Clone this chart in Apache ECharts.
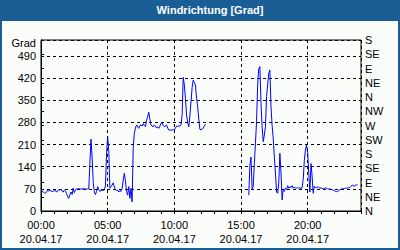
<!DOCTYPE html>
<html><head><meta charset="utf-8">
<script src="https://cdn.jsdelivr.net/npm/echarts@6/dist/echarts.min.js"></script>
<style>html,body{margin:0;padding:0;background:#fbfdfb;}#c{width:400px;height:250px;}</style>
</head><body><div id="c"></div>
<script>
const titleText = 'Windrichtung [Grad]';
const yUnit = 'Grad';
const dateLabel = '20.04.17';
const stepMinutes = 5;
const seg1StartIndex = 0;
const seg1Values = [65,62,60,58,56,60,66,63,66,63,61,64,62,66,60,63,68,66,69,63,60,66,63,55,45,40,52,60,52,72,58,66,70,
 70,70,70,69,70,70,70,70,69,70,70,
 150,227,170,90,60,52,62,77,68,62,65,66,65,66,
 80,180,235,190,72,77,82,89,76,68,64,66,60,64,62,72,98,119,95,62,50,77,40,72,29,
 200,245,262,272,266,261,270,272,268,276,270,266,286,298,312,290,271,268,266,272,268,262,266,261,268,277,280,270,266,268,272,262,256,256,255,256,256,256,262,268,268,268,268,272,303,422,398,356,303,280,266,300,345,390,413,405,398,356,330,290,258,256,258,262,268,274];
const seg2StartIndex = 187;
const seg2Values = [50,145,170,70,77,150,214,282,398,450,456,340,266,219,240,266,361,400,435,445,329,270,230,170,120,60,56,90,182,120,35,70,62,
 72,68,80,72,76,74,80,72,76,72,72,74,72,73,72,73,
 100,160,193,208,185,119,60,150,110,56,
 78,76,72,77,75,72,73,72,70,71,73,72,70,69,70,68,67,66,64,62,61,62,64,67,69,70,70,71,72,72,73,73,74,78,82,80,78,82,82,83];
const hourLabels = ['00:00','05:00','10:00','15:00','20:00'];
const compassLabels = ['N','NE','E','SE','S','SW','W','NW','N','NE','E','SE','S'];
const yMax = 540;

function toPoints(start, vals) {
  return vals.map((v, k) => [(start + k) * stepMinutes / 60, v]);
}
const lineData = toPoints(seg1StartIndex, seg1Values)
  .concat([[(seg1StartIndex + seg1Values.length) * stepMinutes / 60, '-']])
  .concat(toPoints(seg2StartIndex, seg2Values));

const FONT = '"Liberation Sans", Arial, sans-serif';
const blue = '#1b5e95';
const chart = echarts.init(document.getElementById('c'), null, {renderer: 'svg'});
chart.setOption({
  animation: false,
  backgroundColor: '#fbfdfb',
  textStyle: {fontFamily: FONT},
  grid: {left: 41, right: 39, top: 40, bottom: 39, show: true, borderColor: '#000', borderWidth: 1, backgroundColor: 'transparent'},
  graphic: [
    {type: 'rect', shape: {x: 0, y: 0, width: 400, height: 21}, style: {fill: blue}, silent: true},
    {type: 'rect', shape: {x: 0, y: 0, width: 2, height: 250}, style: {fill: blue}, silent: true},
    {type: 'rect', shape: {x: 398, y: 0, width: 2, height: 250}, style: {fill: blue}, silent: true},
    {type: 'rect', shape: {x: 0, y: 248, width: 400, height: 2}, style: {fill: blue}, silent: true},
    {type: 'text', z: 100, style: {x: 210, y: 10, text: titleText, fill: '#fff', font: 'bold 11px ' + FONT, align: 'center', verticalAlign: 'middle'}},
    {type: 'text', z: 100, style: {x: 36, y: 43, text: yUnit, fill: '#000', font: '11px ' + FONT, align: 'right', verticalAlign: 'middle'}}
  ],
  xAxis: [
    {type: 'value', min: 0, max: 24, interval: 1, position: 'bottom',
     axisLine: {show: true, lineStyle: {color: '#000', width: 1}},
     axisTick: {show: true, inside: false, length: 3, lineStyle: {color: '#000'}},
     axisLabel: {show: false}, splitLine: {show: false}},
    {type: 'value', min: 0, max: 24, interval: 5, position: 'bottom',
     axisLine: {show: false}, axisTick: {show: false},
     axisLabel: {show: true, color: '#000', fontSize: 11, fontFamily: FONT, margin: 7, lineHeight: 14,
       formatter: v => { const k = Math.round(v / 5); return (v % 5 === 0 && hourLabels[k]) ? hourLabels[k] + '\n' + dateLabel : ''; }},
     splitLine: {show: true, lineStyle: {color: '#000', type: [3, 3], width: 1}}}
  ],
  yAxis: [
    {type: 'value', min: 0, max: yMax, interval: 70, position: 'left',
     axisLine: {show: true, lineStyle: {color: '#000'}}, axisTick: {show: false},
     axisLabel: {color: '#000', fontSize: 11, fontFamily: FONT, margin: 5, formatter: v => v % 70 === 0 ? String(v) : ''},
     splitLine: {show: true, lineStyle: {color: '#000', type: [3, 3], width: 1}}},
    {type: 'value', min: 0, max: yMax, interval: 45, position: 'right',
     axisLine: {show: true, lineStyle: {color: '#000'}},
     axisTick: {show: true, length: 3, lineStyle: {color: '#000'}},
     axisLabel: {color: '#000', fontSize: 11, fontFamily: FONT, margin: 4, formatter: v => compassLabels[Math.round(v / 45)] || ''},
     splitLine: {show: false}}
  ],
  series: [{
    type: 'line', xAxisIndex: 0, yAxisIndex: 0, data: lineData, showSymbol: false, symbol: 'none',
    connectNulls: false, lineStyle: {color: '#0000ff', width: 1}, z: 5
  }]
});
</script>
</body></html>
